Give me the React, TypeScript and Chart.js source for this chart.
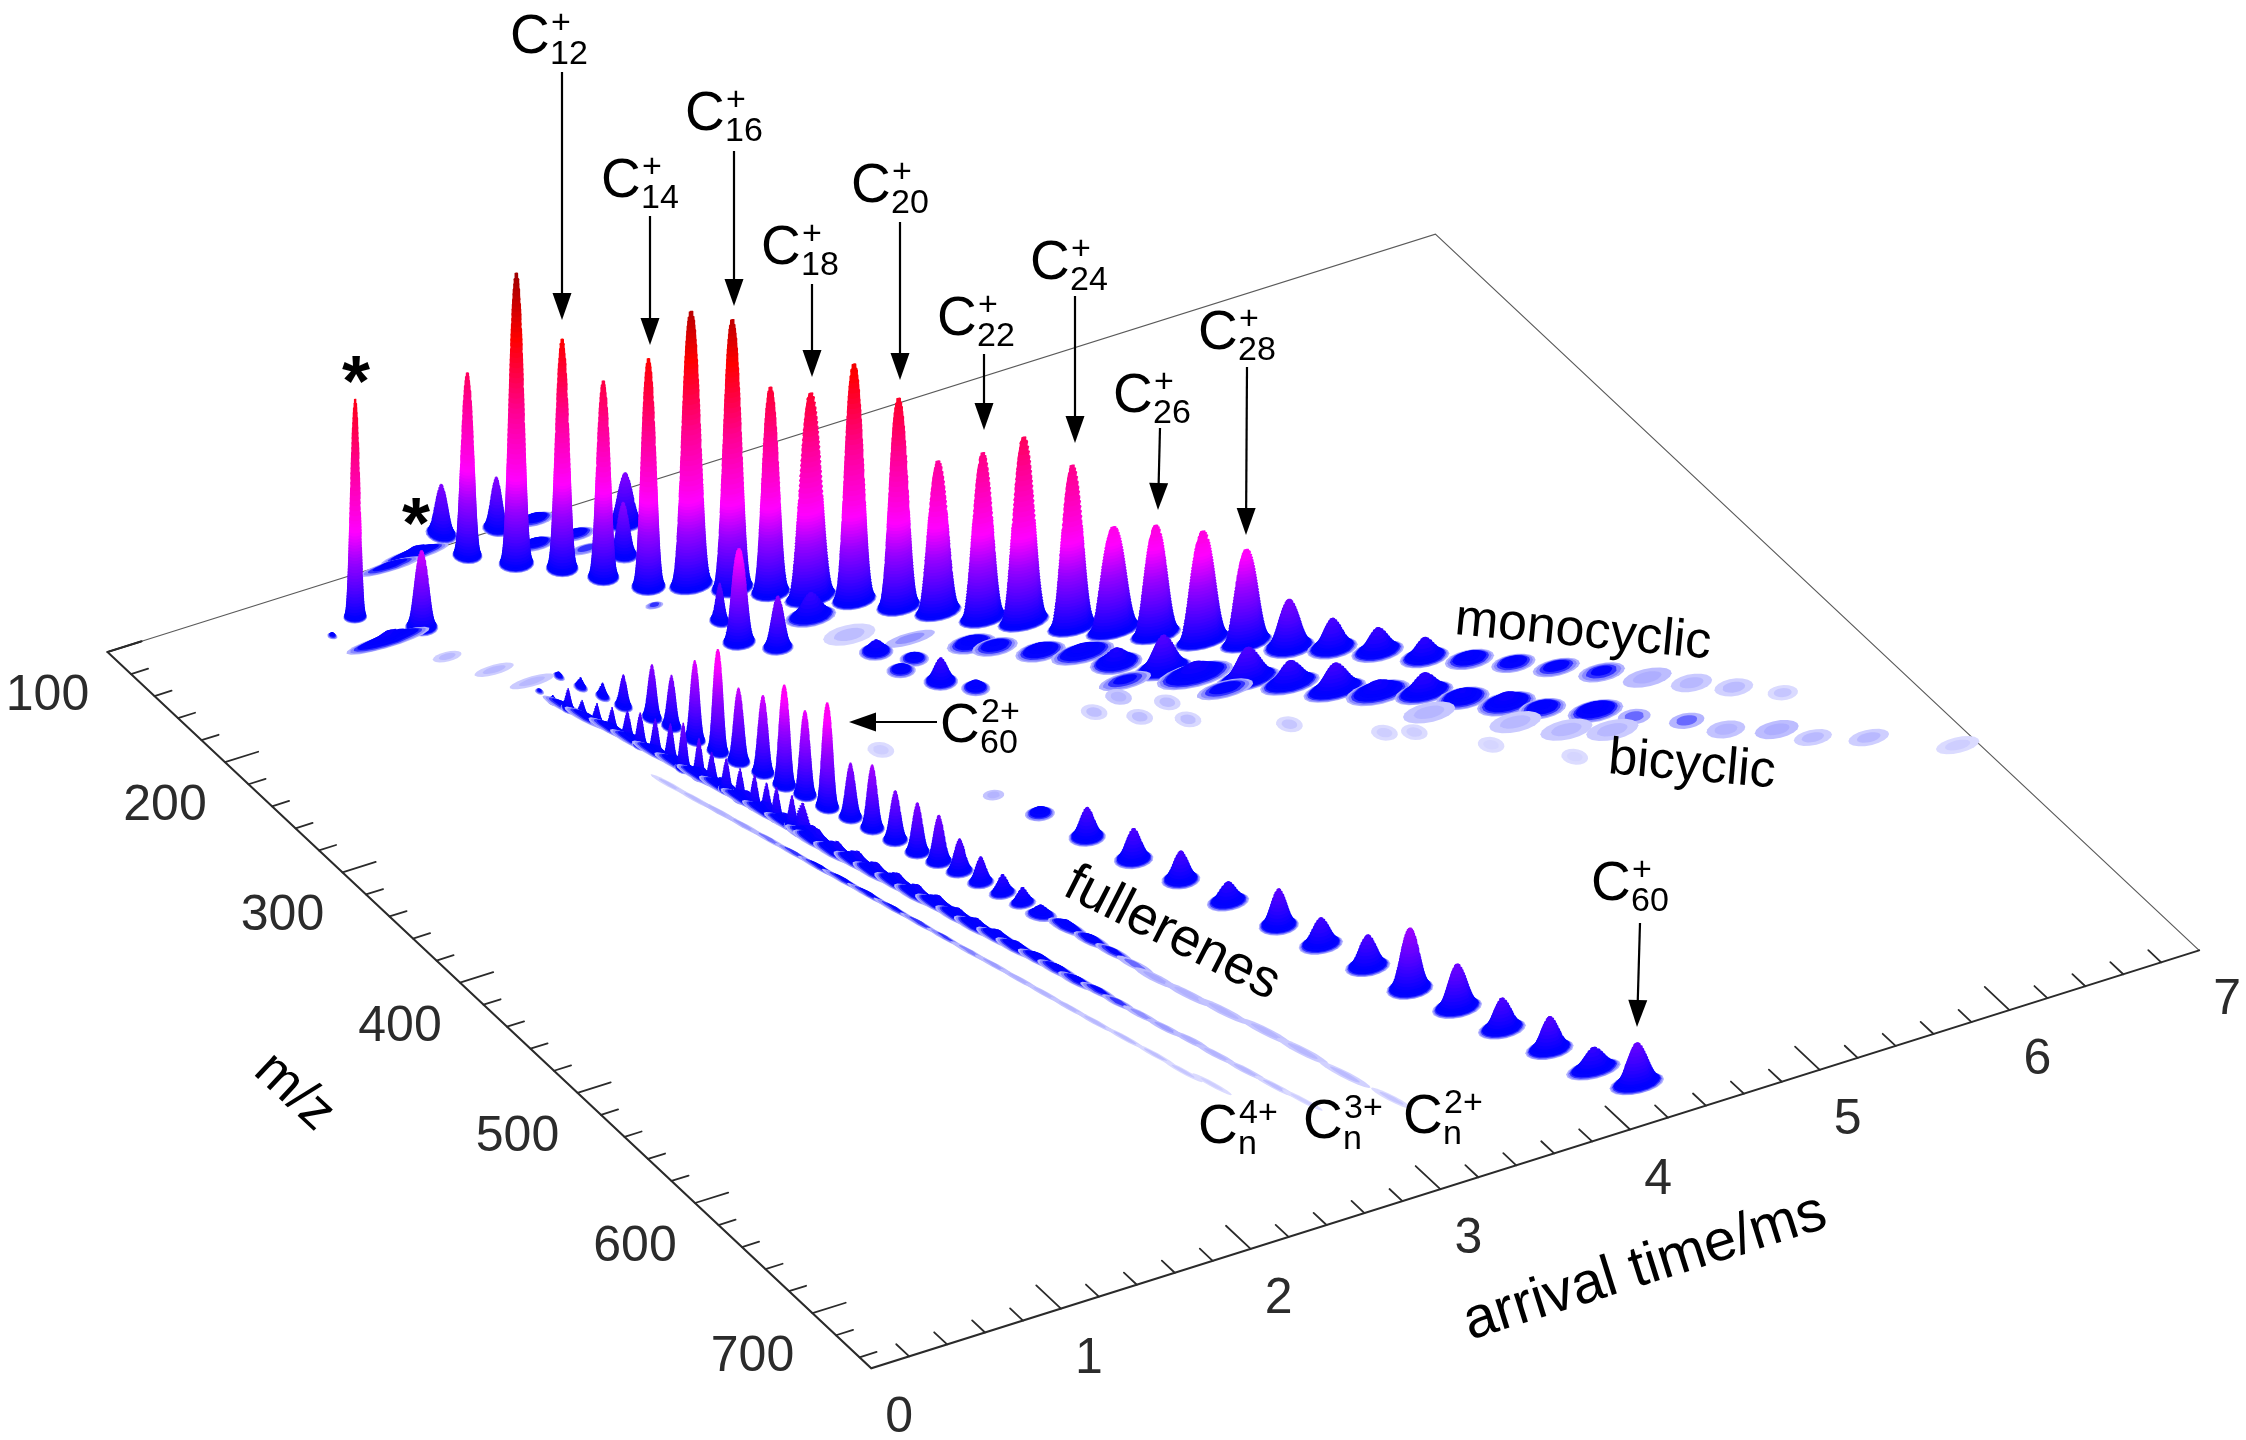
import { useEffect, useRef } from "react";
import { Chart, registerables } from "chart.js";

Chart.register(...registerables);

// ---- data: m/z, arrival time (ms), intensity, spread in time, spread in m/z ----
const monoMz = [112,128,141,156,172,180,191,202,214,225,239,251,265,276,290,301,313,327,338,350,360,372,386,397,409,421,434,447,460,472,486];
const monoTime = [1.823,1.982,2.143,2.267,2.406,2.581,2.730,2.863,3.000,3.161,3.309,3.442,3.591,3.739,3.908,4.057,4.205,4.366,4.528,4.680,4.846,5.011,5.171,5.340,5.497,5.649,5.807,5.967,6.12,6.269,6.44];
const monoHeight = [185,294,232,199,231,277,272,208,207,239,211,153,168,187,164,105,111,111,95,49,31,25,21,8,6,5,4,1.5,1.1,0.9,0.6];
const monoSpreadT = [.021,.025,.023,.023,.025,.033,.032,.030,.041,.034,.034,.038,.038,.041,.040,.047,.043,.047,.045,.046,.048,.052,.050,.060,.058,.066,.07,.085,.07,.065,.05];
const monoSpreadM = [2.2,2.2,2.2,2.2,2.2,2.2,2.2,2.2,2.2,2.2,2.2,2.2,2.2,2.2,2.2,2.2,2.2,2.2,2.2,3,3,3,3,3.5,3.5,3.5,4,4.5,4.5,4.5,4];

const bicyMz = [211,229,241,227,265,278,283,299,311,263,280,287,300,310,324,338,338,349,363,365,375,389,400,410,422,435,446,459,471,485,499,510,523,535,559,449,465,475,424,247];
const bicyTime = [2.54,2.53,2.66,2.92,3.03,3.15,3.05,3.16,3.27,3.22,3.44,3.52,3.68,3.84,3.93,4.09,3.89,4.19,4.38,4.25,4.53,4.68,4.84,5.02,5.15,5.30,5.42,5.62,5.75,5.94,6.06,6.26,6.37,6.59,6.91,5.26,5.43,5.61,4.96,3.0];
const bicyHeight = [40,95,53,25,13,7,7,25,9,2,8,6,9,10,16,35,4,14,33,5,24,28,13,21,10,12,7,9,2.5,2.5,1.3,1.5,1,1,0.5,1.1,1.1,1.1,1.2,0.8];
const bicySpreadT = [.017,.027,.027,.05,.036,.035,.035,.032,.032,.09,.06,.06,.06,.075,.055,.055,.08,.085,.062,.08,.06,.062,.072,.06,.062,.066,.06,.066,.055,.06,.065,.075,.065,.07,.075,.09,.09,.09,.09,.09];
const bicySpreadM = [2,2.2,2.2,3,3,3,3,2.8,3,3,3.5,3.5,3.5,3.5,3.5,3,3.5,3.8,3,3.5,3,3,3.8,3.2,3.8,3.8,3.8,3.8,4,4,4.5,4.5,4,4,4,5,5,5,5,5];

const faintMz = [347,361,352,365,377,402,332,428,434,459,485];
const faintTime = [3.80,3.97,3.64,3.80,3.98,4.36,2.64,4.70,4.82,5.07,5.35];
const faintHeight = [1.2,0.8,0.7,0.8,0.7,0.6,0.5,0.5,0.5,0.4,0.4];

const smallMz = [130,138,92,100,103,151,153,100,124,145,102,121,119,133,186,176,195,211];
const smallTime = [1.12,0.95,1.81,1.62,1.47,1.34,1.15,2.05,2.58,2.44,2.24,2.34,2.14,2.32,2.35,1.32,1.45,1.55];
const smallHeight = [221,5,51,9,5,78,11,53,52,54,7,6,7,3,3,1,1,1.1];
const smallSpreadT = [.017,.012,.024,.085,.09,.026,.10,.022,.032,.024,.05,.05,.05,.06,.03,.05,.07,.08];
const smallSpreadM = [1.5,1.5,3,2,2,2.5,2.2,2.5,2.5,2.5,2.5,2.5,2.5,2.5,1.8,2.5,2.5,2.5];

const c60Mz = [387,410,436,461,485,510,537,559,584,608,631,655,679,702,721];
const c60Time = [2.893,2.995,3.083,3.173,3.273,3.367,3.467,3.553,3.645,3.719,3.825,3.913,4.015,4.104,4.215];
const c60Height = [1.3,8,31,32,30,21,38,28,33,62,45,32,34,23,42];
const c60SpreadT = [.035,.035,.034,.036,.036,.042,.036,.042,.042,.04,.045,.045,.045,.055,.05];

const twoMz = [214,226,237,248,262,272,286,299,310,323,336,347,360,372,384,397,410,421,432,444,456,467,479,493,507,520,533,546,564,583,606,627,652,678];
const twoTime = [1.673,1.714,1.762,1.803,1.867,1.908,1.944,1.985,2.026,2.074,2.106,2.147,2.184,2.232,2.272,2.313,2.349,2.394,2.435,2.472,2.513,2.55,2.573,2.626,2.666,2.702,2.735,2.762,2.822,2.892,2.974,3.036,3.104,3.189];
const twoHeight = [6,11,15,33,55,53,81,104,75,79,102,86,106,56,65,51,51,48,34,27,20,17,11,8,6,4,2.5,1.6,1.4,1.3,1.2,1.1,0.9,0.6];
const twoSpreadT = [.012,.013,.013,.015,.016,.016,.016,.016,.018,.018,.018,.018,.018,.02,.02,.022,.022,.024,.026,.026,.028,.028,.028,.022,.022,.02,.02,.02,.02,.02,.02,.02,.018,.016];
const twoSpreadM = [2,2,2,2,2,2,2,2,2,2,2,2,2,2,2,2,2,2,2,2,2,2,3,5,5,6,7,8,9,10,10,10,10,8];

const threeMz = [220,230,238,245,253,261,270,278,286,294,303,312,318,327,336,344,350,357,366,373,382,394,405,416,428,440,451,463,474,486,497,509,520,532,543,555,568,582,596,611,628,645,660];
const threeTime = [1.534,1.543,1.574,1.604,1.633,1.663,1.688,1.706,1.736,1.766,1.778,1.805,1.835,1.856,1.873,1.90,1.926,1.935,1.961,1.975,2.00,2.03,2.07,2.10,2.14,2.17,2.21,2.24,2.27,2.31,2.34,2.38,2.41,2.44,2.48,2.51,2.55,2.59,2.64,2.68,2.73,2.78,2.83];
const threeHeight = [4,8,22,16,20,23,28,34,35,37,47,40,31,33,32,33,30,33,33,32,14,13,13,12,12,12,11,10,10,9,8,7,6,5,4,3,2,1.8,1.5,1.3,1.1,0.8,0.5];
const threeSpreadT = [.011,.011,.012,.012,.012,.012,.013,.013,.013,.013,.013,.013,.013,.013,.013,.013,.013,.013,.013,.016,.021,.021,.021,.021,.021,.021,.021,.021,.021,.021,.02,.02,.02,.02,.018,.018,.016,.016,.016,.015,.015,.014,.012];
const threeSpreadM = [1.6,1.6,1.8,1.8,1.8,1.8,1.8,1.8,1.8,1.8,1.8,1.8,1.8,1.8,1.8,1.8,1.8,1.8,1.8,3,6,6,6,6,6,6,6,6,6,6,6,6,6,6,6,6,7,7,7,8,8,8,8];

const bandMz = [236,249,262,275,288,301,314,327,340,353,366,379];
const bandTime = [1.570,1.612,1.663,1.700,1.741,1.780,1.818,1.859,1.893,1.927,1.964,1.996];
const bandHeight = [5,6,7,8,9,10,11,12,12,13,14,14];

const fourMz = [311,326,340,355,370,385,400,414,429,444,459,474,489,503,518,533,548,563,580,598,615,630];
const fourTime = [1.66,1.70,1.74,1.78,1.82,1.86,1.90,1.94,1.98,2.02,2.06,2.10,2.14,2.18,2.22,2.26,2.30,2.34,2.39,2.44,2.48,2.54];
const fourHeight = [0.8,1,1.4,1.8,2.4,3,4,4,4,3.5,3,2.6,2.2,1.8,1.5,1.3,1.2,1.1,0.9,0.7,0.6,0.5];

const mzTicks = [100,120,140,160,180,200,220,240,260,280,300,320,340,360,380,400,420,440,460,480,500,520,540,560,580,600,620,640,660,680,700,720,740];
const mzTickLabels = [100,200,300,400,500,600,700];
const timeTicks = [0.2,0.4,0.6,0.8,1,1.2,1.4,1.6,1.8,2,2.2,2.4,2.6,2.8,3,3.2,3.4,3.6,3.8,4,4.2,4.4,4.6,4.8,5,5.2,5.4,5.6,5.8,6,6.2,6.4,6.6,6.8];
const timeTickLabels = [0,1,2,3,4,5,6,7];

// ---- projection of (arrival time, m/z, intensity) on to the chart's two hidden linear scales ----
const MZ_MIN = 100, MZ_MAX = 750, T_MAX = 7;
const project = (t: number, mz: number, z = 0) => ({
  x: 107.5 + 1.175 * (mz - MZ_MIN) + 189.7 * t,
  y: 652 + 1.102 * (mz - MZ_MIN) - 59.7 * t - z,
});

// colour map over intensity
const stops: [number, number, number, number][] = [
  [0, 226, 226, 255], [0.25, 216, 216, 255], [0.5, 190, 190, 255], [1, 178, 178, 255], [1.5, 136, 136, 255], [2.2, 50, 50, 255],
  [3, 4, 4, 255], [6, 0, 0, 255], [30, 70, 0, 255], [60, 150, 0, 255], [90, 255, 0, 255],
  [160, 255, 0, 144], [230, 255, 0, 0], [300, 150, 0, 0],
];
const colourAt = (z: number) => {
  for (let i = 1; i < stops.length; i++) {
    if (z <= stops[i][0]) {
      const a = stops[i - 1], b = stops[i], f = (z - a[0]) / (b[0] - a[0]);
      const c = [1, 2, 3].map((k) => Math.round(a[k] + (b[k] - a[k]) * f));
      return `rgb(${c[0]},${c[1]},${c[2]})`;
    }
  }
  return "rgb(150,0,0)";
};

type Peak = { t: number; m: number; h: number; st: number; sm: number; skew: number };
const zip = (m: number[], t: number[], h: number[], st: number[] | number, sm: number[] | number, ridgeSkew = 0): Peak[] =>
  m.map((v, i) => {
    const spreadM = Array.isArray(sm) ? sm[i] : sm;
    return {
      m: v, t: t[i], h: h[i],
      st: Array.isArray(st) ? st[i] : st,
      sm: spreadM,
      skew: spreadM >= 3 ? ridgeSkew : 0,
    };
  });

const lowLevels = [1, 1.5, 2.2, 3, 4, 5.5, 7.5];
const levelsOf = (h: number) => {
  if (h <= 2.5) return [h * 0.35, h * 0.7];
  const out = lowLevels.filter((z) => z < h * 0.97);
  for (let z = 10; z < h * 0.97; z += z < 100 ? 3 : 5) out.push(z);
  if (h > 8) out.push(h * 0.97, h * 0.99);
  return out;
};

// radial profile: gaussian for low hills, more bullet-shaped for the tall peaks, same footprint
const radius = (h: number, z: number) => {
  const e = 0.5 - 0.15 * Math.min(1, h / 100);
  const g = Math.max(2 * Math.log(h / 1.5), 1);
  return Math.pow(g, 0.5 - e) * Math.pow(2 * Math.log(h / z), e);
};

const ANGLES = 18;
const peakDatasets = (p: Peak) => {
  const levels = levelsOf(p.h);
  return levels.map((z, i) => {
    const low = i > 0 ? levels[i - 1] : z;
    const r = radius(p.h, z);
    const data = [];
    for (let k = 0; k < ANGLES; k++) {
      const a = (k / ANGLES) * Math.PI * 2;
      const dm = p.sm * r * Math.sin(a);
      const dt = p.st * r * Math.cos(a) + p.skew * dm;
      const flat = project(p.t + dt, p.m + dm);
      const centre = project(p.t, p.m);
      data.push(project(p.t + dt, p.m + dm, flat.y > centre.y ? low : z));
    }
    return {
      data, fill: "shape", showLine: true, borderWidth: 0, pointRadius: 0, tension: 0,
      borderColor: "transparent", backgroundColor: colourAt(z),
    };
  });
};

const lineSet = (pts: { x: number; y: number }[], color: string, width: number) => ({
  data: pts, fill: false, showLine: true, borderWidth: width, pointRadius: 0, tension: 0,
  borderColor: color, backgroundColor: color, borderCapStyle: "round",
});

const buildDatasets = () => {
  const peaks = [
    ...zip(monoMz, monoTime, monoHeight, monoSpreadT, monoSpreadM),
    ...zip(bicyMz, bicyTime, bicyHeight, bicySpreadT, bicySpreadM),
    ...zip(faintMz, faintTime, faintHeight, 0.04, 4.5),
    ...zip(smallMz, smallTime, smallHeight, smallSpreadT, smallSpreadM),
    ...zip(c60Mz, c60Time, c60Height, c60SpreadT, 2.8),
    ...zip(twoMz, twoTime, twoHeight, twoSpreadT, twoSpreadM, 0.003),
    ...zip(threeMz, threeTime, threeHeight, threeSpreadT, threeSpreadM, 0.003),
    ...zip(bandMz, bandTime, bandHeight, 0.018, 7, 0.003),
    ...zip(fourMz, fourTime, fourHeight, 0.012, 8, 0.0027),
  ].sort((a, b) => project(a.t, a.m).y - project(b.t, b.m).y);

  const frame = "#2a2a2a", back = "#5a5a5a";
  const axes = [
    lineSet([project(0, MZ_MIN), project(T_MAX, MZ_MIN), project(T_MAX, MZ_MAX)], back, 1.2),
    lineSet([project(0, MZ_MIN), project(0.18, MZ_MIN)], frame, 2),
    lineSet([project(0, MZ_MIN), project(0, MZ_MAX), project(T_MAX, MZ_MAX)], frame, 2),
    ...mzTicks.map((m) => lineSet([project(0, m), project(m % 100 === 0 ? 0.175 : 0.09, m)], frame, 1.8)),
    ...timeTicks.map((t) => lineSet([project(t, MZ_MAX), project(t, MZ_MAX - (Math.abs(t - Math.round(t)) < 0.01 ? 21 : 11))], frame, 1.8)),
  ];
  const order = [...axes, ...peaks.flatMap(peakDatasets)];
  return order.reverse(); // Chart.js paints the last dataset first
};

// ---- annotations (labels and arrows) ----
const LABEL_FONT = '"Liberation Sans", Arial, sans-serif';
type Note = { sub: string; sup: string; x: number; y: number; arrow?: [number, number, number, number] };
const notes: Note[] = [
  { sub: "12", sup: "+", x: 510, y: 53, arrow: [562, 72, 562, 320] },
  { sub: "14", sup: "+", x: 601, y: 197, arrow: [650, 216, 650, 345] },
  { sub: "16", sup: "+", x: 685, y: 130, arrow: [734, 151, 734, 306] },
  { sub: "18", sup: "+", x: 761, y: 264, arrow: [812, 284, 812, 377] },
  { sub: "20", sup: "+", x: 851, y: 202, arrow: [900, 222, 900, 380] },
  { sub: "22", sup: "+", x: 937, y: 335, arrow: [984, 354, 984, 430] },
  { sub: "24", sup: "+", x: 1030, y: 279, arrow: [1075, 296, 1075, 443] },
  { sub: "26", sup: "+", x: 1113, y: 412, arrow: [1160, 428, 1158, 510] },
  { sub: "28", sup: "+", x: 1198, y: 349, arrow: [1247, 367, 1246, 535] },
  { sub: "60", sup: "+", x: 1591, y: 900, arrow: [1640, 923, 1637, 1027] },
  { sub: "60", sup: "2+", x: 940, y: 742, arrow: [937, 722, 849, 722] },
  { sub: "n", sup: "4+", x: 1198, y: 1143 },
  { sub: "n", sup: "3+", x: 1303, y: 1138 },
  { sub: "n", sup: "2+", x: 1403, y: 1133 },
];
const rotated: [string, number, number, number, number][] = [
  ["monocyclic", 1583, 632, 5.5, 52],
  ["bicyclic", 1692, 766, 5, 52],
  ["fullerenes", 1172, 934, 27, 54],
  ["arrival time/ms", 1645, 1268, -17.5, 58],
  ["m/z", 294, 1092, 43, 54],
];

const arrowHead = (ctx: CanvasRenderingContext2D, a: [number, number, number, number]) => {
  const [x1, y1, x2, y2] = a;
  const ang = Math.atan2(y2 - y1, x2 - x1);
  ctx.strokeStyle = "#000";
  ctx.lineWidth = 2.2;
  ctx.beginPath();
  ctx.moveTo(x1, y1);
  ctx.lineTo(x2 - 20 * Math.cos(ang), y2 - 20 * Math.sin(ang));
  ctx.stroke();
  ctx.save();
  ctx.translate(x2, y2);
  ctx.rotate(ang);
  ctx.fillStyle = "#000";
  ctx.beginPath();
  ctx.moveTo(0, 0);
  ctx.lineTo(-27, -9.5);
  ctx.lineTo(-27, 9.5);
  ctx.closePath();
  ctx.fill();
  ctx.restore();
};

const annotate = {
  id: "annotate",
  afterDraw(chart: Chart) {
    const ctx = chart.ctx;
    ctx.save();
    ctx.textBaseline = "alphabetic";
    ctx.textAlign = "center";
    ctx.fillStyle = "#2b2b2b";
    ctx.font = `50px ${LABEL_FONT}`;
    mzTickLabels.forEach((m) => {
      const p = project(0, m);
      ctx.fillText(String(m), p.x - 60, p.y + 58);
    });
    timeTickLabels.forEach((t) => {
      const p = project(t, MZ_MAX);
      ctx.fillText(String(t), p.x + 28, p.y + 64);
    });
    ctx.fillStyle = "#000";
    ctx.textAlign = "left";
    notes.forEach((n) => {
      ctx.font = `55px ${LABEL_FONT}`;
      ctx.fillText("C", n.x, n.y);
      ctx.font = `34px ${LABEL_FONT}`;
      ctx.fillText(n.sub, n.x + 40, n.y + 11);
      ctx.fillText(n.sup, n.x + 41, n.y - 20);
      if (n.arrow) arrowHead(ctx, n.arrow);
    });
    ctx.textAlign = "center";
    ctx.textBaseline = "middle";
    rotated.forEach(([s, x, y, deg, size]) => {
      ctx.save();
      ctx.translate(x, y);
      ctx.rotate((deg * Math.PI) / 180);
      ctx.font = `${size}px ${LABEL_FONT}`;
      ctx.fillText(s, 0, 0);
      ctx.restore();
    });
    ctx.textBaseline = "alphabetic";
    ctx.font = `bold 72px ${LABEL_FONT}`;
    ctx.fillText("*", 356, 406);
    ctx.fillText("*", 416, 548);
    ctx.restore();
  },
};

export default function App() {
  const ref = useRef<HTMLCanvasElement>(null);
  useEffect(() => {
    if (!ref.current) return;
    const chart = new Chart(ref.current, {
      type: "line",
      data: { datasets: buildDatasets() as any },
      options: {
        responsive: false,
        animation: false,
        devicePixelRatio: 1,
        events: [],
        layout: { padding: 0 },
        plugins: { legend: { display: false }, tooltip: { enabled: false } },
        scales: {
          x: { type: "linear", min: 0, max: 2246, display: false },
          y: { type: "linear", min: 0, max: 1440, reverse: true, display: false },
        },
      },
      plugins: [annotate],
    } as any);
    return () => chart.destroy();
  }, []);
  return (
    <div style={{ position: "absolute", left: 0, top: 0, width: 2246, height: 1440, background: "#fff" }}>
      <canvas ref={ref} width={2246} height={1440} style={{ display: "block" }} />
    </div>
  );
}
